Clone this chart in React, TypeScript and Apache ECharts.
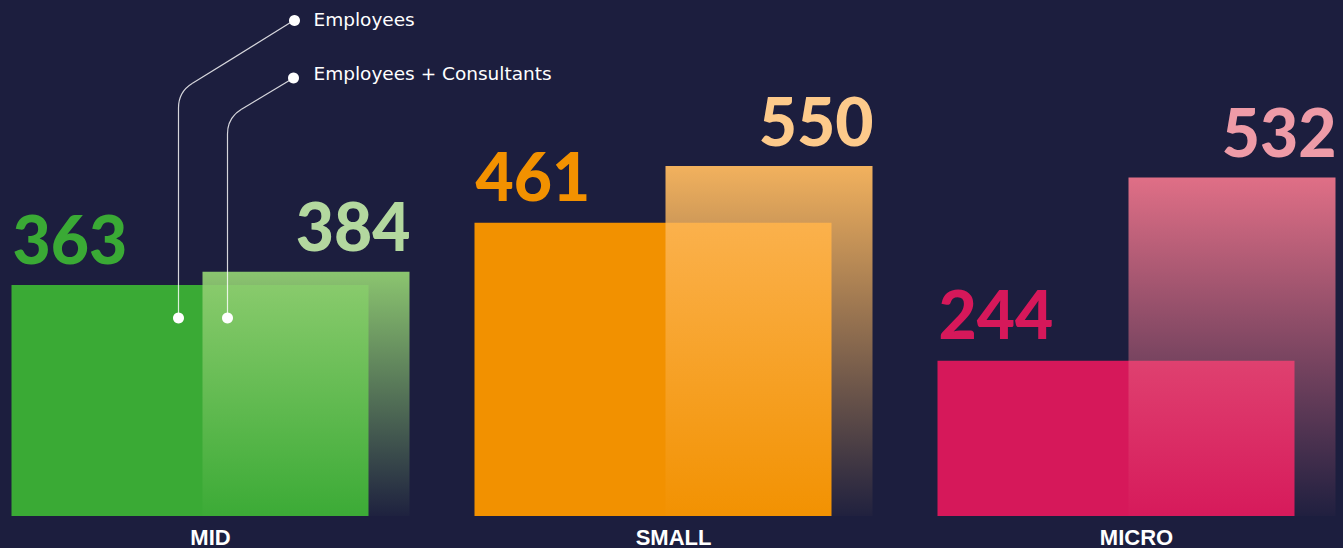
import React, { useEffect, useRef } from 'react';
import * as echarts from 'echarts';

const categories = ['MID', 'SMALL', 'MICRO'];
const employees = [363, 461, 244];
const employeesConsultants = [384, 550, 532];
const seriesNames = ['Employees', 'Employees + Consultants'];

const employeeColors = ['#3aaa35', '#f29100', '#d6185a'];
const totalRgb = ['145,206,114', '253,185,95', '234,115,138'];
const totalLabelColors = ['#b3d89f', '#fdca8b', '#ee9ba7'];

// the chart canvas is shifted left so that category bands are 463px wide
const SHIFT = 21.5;

export default function App() {
  const ref = useRef<HTMLDivElement>(null);

  useEffect(() => {
    document.body.style.overflow = 'hidden';
    const chart = echarts.init(ref.current!, null, { renderer: 'svg' });
    const X = (x: number) => x + SHIFT;
    const lineStyle = { stroke: 'rgba(255,255,255,0.82)', lineWidth: 1.2, fill: null as any };
    const dot = (x: number, y: number) => ({
      type: 'circle', z: 100, shape: { cx: X(x), cy: y, r: 5.5 }, style: { fill: '#ffffff' },
    });
    const labelFont = { fontFamily: 'Lato', fontWeight: 900, fontSize: 66 };

    const option: any = {
      animation: false,
      backgroundColor: '#1c1e3e',
      grid: { left: 0, right: 0, top: 7, bottom: 31, containLabel: false },
      xAxis: {
        type: 'category',
        data: categories,
        axisLine: { show: false },
        axisTick: { show: false },
        axisLabel: {
          color: '#ffffff', fontFamily: 'Liberation Sans', fontWeight: 'bold',
          fontSize: 22, lineHeight: 22, margin: 10,
        },
      },
      yAxis: { type: 'value', min: 0, max: 800, show: false, splitLine: { show: false } },
      series: [
        {
          name: seriesNames[0],
          type: 'bar',
          barWidth: 357,
          barGap: '-46.5%',
          data: employees.map((v, i) => ({
            value: v,
            itemStyle: { color: employeeColors[i] },
            label: { color: employeeColors[i] },
          })),
          label: {
            show: true, position: [1, -47], align: 'left', verticalAlign: 'middle', ...labelFont,
          },
        },
        {
          name: seriesNames[1],
          type: 'bar',
          barWidth: 207,
          barGap: '-46.5%',
          data: employeesConsultants.map((v, i) => ({
            value: v,
            itemStyle: {
              color: new echarts.graphic.LinearGradient(0, 0, 0, 1, [
                { offset: 0, color: `rgba(${totalRgb[i]},0.95)` },
                { offset: 1, color: `rgba(${totalRgb[i]},0.02)` },
              ]),
            },
            label: { color: totalLabelColors[i] },
          })),
          label: {
            show: true, position: [208, -46], align: 'right', verticalAlign: 'middle', ...labelFont,
          },
        },
      ],
      graphic: [
        { type: 'line', z: 100, shape: { x1: X(294), y1: 20, x2: X(191.6), y2: 83.6 }, style: lineStyle },
        { type: 'bezierCurve', z: 100, shape: { x1: X(191.6), y1: 83.6, cpx1: X(178), cpy1: 92, x2: X(178), y2: 108 }, style: lineStyle },
        { type: 'line', z: 100, shape: { x1: X(178), y1: 108, x2: X(178), y2: 318 }, style: lineStyle },
        { type: 'line', z: 100, shape: { x1: X(293), y1: 78, x2: X(240.6), y2: 109.6 }, style: lineStyle },
        { type: 'bezierCurve', z: 100, shape: { x1: X(240.6), y1: 109.6, cpx1: X(227), cpy1: 118, x2: X(227), y2: 134 }, style: lineStyle },
        { type: 'line', z: 100, shape: { x1: X(227), y1: 134, x2: X(227), y2: 318 }, style: lineStyle },
        dot(294, 20.5),
        dot(293, 78),
        dot(178, 318),
        dot(227, 318),
        {
          type: 'text', z: 100, x: X(313), y: 19.5,
          style: { text: seriesNames[0], fill: '#ffffff', font: '18.5px "DejaVu Sans"', verticalAlign: 'middle' },
        },
        {
          type: 'text', z: 100, x: X(313), y: 73.5,
          style: { text: seriesNames[1], fill: '#ffffff', font: '18.5px "DejaVu Sans"', verticalAlign: 'middle' },
        },
      ],
    };
    chart.setOption(option);
    return () => chart.dispose();
  }, []);

  return (
    <div
      ref={ref}
      style={{ position: 'fixed', left: -SHIFT, top: 0, width: 1389, height: 548 }}
    />
  );
}
